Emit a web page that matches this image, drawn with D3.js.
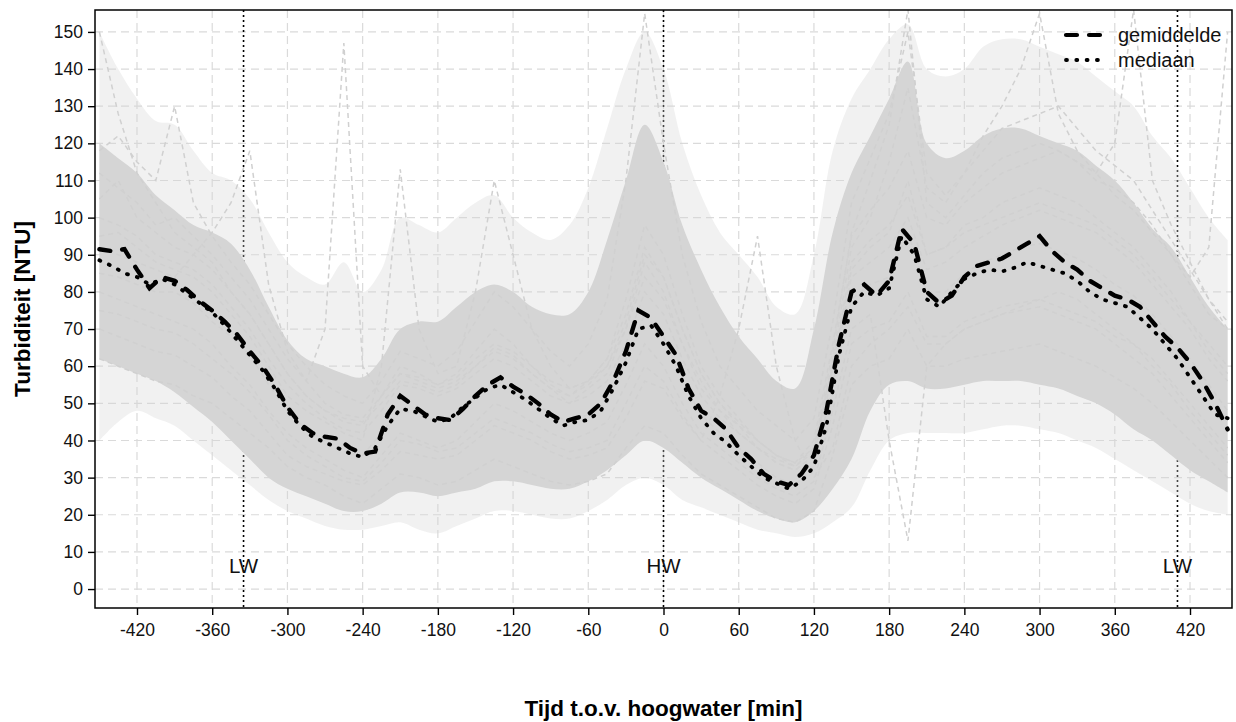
<!DOCTYPE html>
<html>
<head>
<meta charset="utf-8">
<script src="https://cdn.jsdelivr.net/npm/d3@7"></script>
<style>
  html, body { margin: 0; padding: 0; background: #fff; }
  svg { display: block; font-family: "Liberation Sans", Arial, sans-serif; }
</style>
</head>
<body>
<svg id="chart" width="1236" height="722"></svg>
<script>
// Time relative to high water [min], 10-minute steps for the summary curves
const tSummary = d3.range(-450, 451, 10);
const meanValues = [
  91.5, 91.0, 91.5, 86, 81, 84, 83, 80.5, 77.5, 75,
  72, 68.5, 64, 60, 55, 49, 44.5, 42, 41, 40.5,
  38, 36.5, 37, 47, 52, 49.5, 47, 46, 45.5, 48.5,
  52, 55, 57, 54.5, 52.5, 50, 47, 45, 46, 47,
  50, 56, 64, 75, 73, 68, 63, 54, 48, 46,
  43, 38, 35, 31, 29, 28, 31, 36, 48, 66,
  80, 82, 79, 83, 97, 93, 80, 77, 79, 84,
  87, 88, 89, 91, 93, 95, 91, 88, 86, 83,
  81, 79, 78, 76, 72, 68, 65, 61, 56, 50, 43
];
const medianValues = [
  88.5, 87, 85, 84, 82, 83.5, 82, 79.5, 77, 74.5,
  71, 67, 63, 59, 54, 48, 44, 41, 39.5, 38,
  36.5, 35.5, 38, 44, 48.5, 48, 46.5, 45, 46, 49,
  51.5, 54, 55, 53, 51, 48.5, 46, 44, 45, 45.5,
  48, 54, 61, 70, 71, 66, 60, 52, 46, 42,
  39.5, 36, 33, 30, 28.5, 27, 29, 33, 44, 63,
  76, 80, 79, 81, 95, 90, 78, 76, 80, 83.5,
  85, 86, 85.5, 86.5, 88, 87, 86, 85, 83, 80,
  78, 77, 76, 73, 70, 66, 62, 57, 52, 47, 46
];

// Individual tidal cycles, 15-minute steps
const tCycle = d3.range(-450, 451, 15);
const cycleValues = [
  [150,128,112,104,96,92,88,80,74,66,58,52,48,45,44,52,60,58,55,58,64,70,66,60,55,52,56,62,78,98,90,74,60,52,46,40,36,34,40,66,95,102,108,118,100,98,104,108,112,114,116,118,115,110,108,104,98,90,82,74,70],
  [62,60,58,56,55,52,50,46,42,38,33,30,28,25,23,27,31,30,28,29,32,35,33,31,29,28,29,31,38,44,42,36,31,28,25,22,19,18,21,36,55,60,62,70,60,60,62,63,64,65,66,64,62,60,57,54,50,45,40,35,30],
  [112,108,104,98,100,95,90,84,78,70,62,56,70,147,60,52,58,56,54,56,60,65,63,58,54,50,54,58,70,88,80,66,54,48,44,40,36,33,38,60,86,92,96,110,90,92,98,100,104,106,108,106,104,100,96,92,86,80,72,64,58],
  [75,74,72,70,69,66,62,58,53,47,40,36,33,30,29,34,40,39,37,38,42,46,44,42,39,37,38,40,50,60,56,47,40,36,32,28,25,23,27,44,66,70,72,80,68,68,72,74,76,77,78,76,74,72,68,66,62,56,50,44,38],
  [118,122,115,110,130,104,95,88,82,74,66,60,55,52,50,56,64,62,60,64,72,80,76,70,64,60,66,78,110,155,120,90,72,60,54,48,44,40,46,72,104,116,128,150,112,106,112,118,124,126,128,130,124,118,114,110,102,94,86,78,72],
  [95,96,92,88,86,84,80,74,68,60,52,48,45,42,40,60,113,70,58,60,80,110,90,70,60,54,56,62,74,92,84,70,58,50,44,38,34,32,36,58,84,88,92,100,86,88,92,95,98,100,102,100,98,96,92,88,82,76,70,62,56],
  [85,84,82,80,80,77,72,68,63,55,48,43,40,37,36,42,48,47,45,47,52,56,54,51,47,45,47,50,62,74,68,56,47,42,38,34,30,28,33,55,78,82,84,96,80,80,85,88,90,92,93,91,89,86,82,79,74,68,62,55,48],
  [80,78,76,74,72,70,66,60,55,48,42,38,35,32,30,36,42,40,38,40,45,50,48,45,42,40,42,45,55,66,60,50,42,38,34,30,27,25,29,48,70,74,40,13,60,66,70,72,74,76,78,80,78,74,70,66,60,55,48,42,36],
  [100,98,95,90,88,86,82,76,70,62,55,50,46,43,42,48,55,54,52,54,58,62,60,56,52,50,52,56,66,80,74,62,52,46,42,38,34,32,36,62,92,100,115,135,108,104,112,122,130,140,155,128,118,112,106,102,96,90,84,92,150],
  [70,68,66,64,63,60,57,52,48,42,36,33,31,29,28,32,37,36,35,36,40,44,42,40,37,35,36,38,46,56,54,46,40,52,70,95,60,40,30,38,60,66,70,76,66,66,70,72,74,75,76,74,72,70,66,62,58,52,46,40,34],
  [105,110,100,96,92,90,86,80,74,66,58,52,48,46,45,50,56,55,53,55,60,64,62,58,54,52,55,60,72,90,84,70,58,50,45,40,36,34,38,64,96,110,125,156,104,100,106,112,116,118,120,118,115,112,120,156,110,98,88,78,70],
  [92,90,88,86,84,90,96,104,118,82,64,56,50,47,46,52,58,57,55,57,62,66,64,60,56,54,56,60,70,84,78,66,56,48,42,38,35,33,37,60,88,94,98,106,90,92,96,98,100,102,104,102,100,98,94,90,84,78,72,66,60]
];

// Spread of all cycles: dense core and sparse outer range, 15-minute steps
const coreLow = [62,60,58,56,53,49,45,40,35,30,27,25,23,21,21,23,26,26,25,26,27,29,29,28,27,27,29,32,36,40,38,34,30,27,24,21,19,18,21,27,35,48,55,56,54,54,55,56,56,56,55,54,52,50,47,43,40,36,32,29,26];
const coreHigh = [120,116,112,106,102,98,96,93,86,76,67,62,60,58,57,62,70,72,72,76,80,82,80,76,74,74,80,94,110,125,115,98,86,76,68,62,56,54,70,96,112,122,132,142,120,116,118,122,124,124,122,120,118,114,110,104,97,92,84,76,70];
const outerLow = [40,45,48,46,44,40,36,32,28,24,21,19,17,16,16,17,18,16,15,17,19,21,21,20,19,19,21,24,28,30,28,24,22,20,18,16,15,14,15,18,22,32,40,42,42,42,42,43,44,44,43,42,40,38,35,32,29,26,23,21,20];
const outerHigh = [150,140,132,126,125,118,112,110,105,96,88,84,82,88,80,86,100,98,96,100,104,106,100,96,94,98,108,124,140,150,140,120,106,96,90,84,76,74,90,118,132,140,148,152,140,138,140,146,148,148,146,144,142,138,134,130,122,116,108,100,94];

const yTicks = d3.range(0, 151, 10);
const xTicks = d3.range(-420, 421, 60);
const tideMarks = [
  { t: -335, label: "LW" },
  { t: 0, label: "HW" },
  { t: 410, label: "LW" }
];
const legendItems = [
  { label: "gemiddelde", dash: "11,12", width: 4.2 },
  { label: "mediaan", dash: "1,9.3", width: 3.8 }
];

const svg = d3.select("#chart");
const plot = { left: 95, right: 1232, top: 10, bottom: 608 };

const x = d3.scaleLinear().domain([-453.5, 453.5]).range([plot.left, plot.right]);
const y = d3.scaleLinear().domain([-5.1, 155.9]).range([plot.bottom, plot.top]);

svg.append("defs").append("clipPath").attr("id", "plotClip")
  .append("rect")
  .attr("x", plot.left).attr("y", plot.top)
  .attr("width", plot.right - plot.left).attr("height", plot.bottom - plot.top);

// Grid
const grid = svg.append("g").attr("stroke", "#dadada").attr("stroke-width", 1.2)
  .attr("stroke-dasharray", "8,5");
grid.selectAll("line.h").data(yTicks).join("line").attr("class", "h")
  .attr("x1", plot.left).attr("x2", plot.right)
  .attr("y1", d => y(d)).attr("y2", d => y(d));
grid.selectAll("line.v").data(xTicks).join("line").attr("class", "v")
  .attr("y1", plot.top).attr("y2", plot.bottom)
  .attr("x1", d => x(d)).attr("x2", d => x(d));

// Low / high water markers
const marks = svg.append("g");
marks.selectAll("line").data(tideMarks).join("line")
  .attr("x1", d => x(d.t)).attr("x2", d => x(d.t))
  .attr("y1", plot.top).attr("y2", plot.bottom)
  .attr("stroke", "#000").attr("stroke-width", 1.6).attr("stroke-dasharray", "2,3");

const body = svg.append("g").attr("clip-path", "url(#plotClip)");

// Spread of the cycles
const band = (lo, hi) => d3.area()
  .x((d, i) => x(tCycle[i]))
  .y0((d, i) => y(lo[i]))
  .y1((d, i) => y(hi[i]))
  .curve(d3.curveCatmullRom.alpha(0.5));
body.append("path").datum(outerLow).attr("d", band(outerLow, outerHigh))
  .attr("fill", "#d3d3d3").attr("fill-opacity", 0.33);
body.append("path").datum(coreLow).attr("d", band(coreLow, coreHigh))
  .attr("fill", "#d5d5d5");

// Individual cycles
const cycleLine = d3.line().x((d, i) => x(tCycle[i])).y(d => y(d));
body.append("g").selectAll("path").data(cycleValues).join("path")
  .attr("d", cycleLine)
  .attr("fill", "none").attr("stroke", "#d0d0d0").attr("stroke-width", 1.5)
  .attr("stroke-dasharray", "5,4");

// Mean and median
const summaryLine = d3.line().x((d, i) => x(tSummary[i])).y(d => y(d));
body.append("path").datum(medianValues).attr("d", summaryLine)
  .attr("fill", "none").attr("stroke", "#000").attr("stroke-width", 3.8)
  .attr("stroke-linecap", "round").attr("stroke-dasharray", "1,9.3");
body.append("path").datum(meanValues).attr("d", summaryLine)
  .attr("fill", "none").attr("stroke", "#000").attr("stroke-width", 4.4)
  .attr("stroke-linecap", "round").attr("stroke-dasharray", "11,12");

// Marker labels
svg.append("g").selectAll("text").data(tideMarks).join("text")
  .attr("x", d => x(d.t)).attr("y", 573)
  .attr("text-anchor", "middle").attr("font-size", 20.5).attr("fill", "#111")
  .text(d => d.label);

// Axes
const yAxis = d3.axisLeft(y).tickValues(yTicks).tickSize(7).tickPadding(5)
  .tickFormat(d => String(d));
const xAxis = d3.axisBottom(x).tickValues(xTicks).tickSize(7).tickPadding(9)
  .tickFormat(d => String(d));
const gy = svg.append("g").attr("transform", `translate(${plot.left},0)`).call(yAxis);
const gx = svg.append("g").attr("transform", `translate(0,${plot.bottom})`).call(xAxis);
[gx, gy].forEach(g => {
  g.select(".domain").remove();
  g.selectAll(".tick line").attr("stroke", "#000").attr("stroke-width", 1.4);
  g.selectAll(".tick text").attr("font-size", 17.5).attr("fill", "#111")
    .attr("font-family", "Liberation Sans, Arial, sans-serif");
});

// Frame
svg.append("rect")
  .attr("x", plot.left).attr("y", plot.top)
  .attr("width", plot.right - plot.left).attr("height", plot.bottom - plot.top)
  .attr("fill", "none").attr("stroke", "#000").attr("stroke-width", 1.5);

// Axis titles
svg.append("text")
  .attr("x", (plot.left + plot.right) / 2).attr("y", 716)
  .attr("text-anchor", "middle").attr("font-size", 22.5).attr("font-weight", "bold")
  .text("Tijd t.o.v. hoogwater [min]");
svg.append("text")
  .attr("transform", `translate(30,${(plot.top + plot.bottom) / 2}) rotate(-90)`)
  .attr("text-anchor", "middle").attr("font-size", 22.5).attr("font-weight", "bold")
  .text("Turbiditeit [NTU]");

// Legend
const legend = svg.append("g").attr("transform", "translate(1066,35)");
const li = legend.selectAll("g").data(legendItems).join("g")
  .attr("transform", (d, i) => `translate(0,${i * 25})`);
li.append("line").attr("x1", 0).attr("x2", 34).attr("y1", 0).attr("y2", 0)
  .attr("stroke", "#000").attr("stroke-width", d => d.width)
  .attr("stroke-linecap", "round")
  .attr("stroke-dasharray", d => d.dash);
li.append("text").attr("x", 52).attr("y", 7).attr("font-size", 20).attr("fill", "#111")
  .text(d => d.label);
</script>
</body>
</html>
